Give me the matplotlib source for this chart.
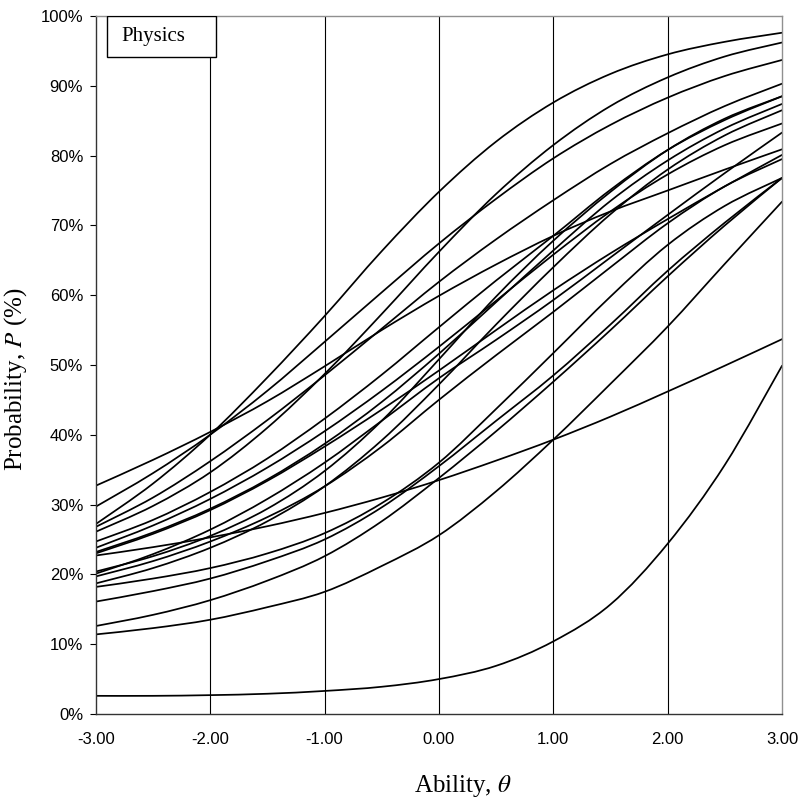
import numpy as np
import matplotlib
matplotlib.use("Agg")
import matplotlib.pyplot as plt
from matplotlib.path import Path
from matplotlib.patches import PathPatch, Rectangle

plt.rcParams["mathtext.fontset"] = "stix"

# ability grid the curves were read at
theta = [-3.0, -2.5, -2.0, -1.5, -1.0, -0.5, 0.0, 0.5, 1.0, 1.5, 2.0, 2.5, 3.0]

# probability (%), one list per item
item_a = [27.2, 33.0, 40.0, 48.2, 57.0, 66.3, 74.8, 82.0, 87.6, 91.7, 94.5, 96.3, 97.6]
item_b = [26.1, 29.8, 34.6, 41.0, 48.7, 57.3, 66.2, 74.5, 81.5, 87.1, 91.2, 94.2, 96.2]
item_c = [29.7, 34.5, 40.0, 46.3, 53.3, 60.4, 67.4, 73.8, 79.6, 84.4, 88.3, 91.4, 93.7]
item_d = [26.8, 31.0, 36.2, 42.1, 48.5, 55.2, 61.9, 68.0, 73.6, 78.8, 83.2, 87.1, 90.3]
item_g = [32.7, 36.4, 40.4, 44.8, 49.8, 55.0, 59.9, 64.4, 68.5, 72.0, 75.0, 78.0, 80.9]
item_e1 = [24.7, 27.8, 31.8, 36.6, 42.3, 48.6, 55.4, 62.1, 68.5, 75.1, 80.8, 85.1, 88.5]
item_e2 = [20.4, 22.6, 25.5, 29.4, 34.8, 42.0, 50.8, 59.8, 67.8, 74.8, 80.8, 85.3, 88.5]
item_e3 = [23.2, 26.0, 29.4, 33.6, 38.7, 44.7, 51.6, 59.0, 66.4, 73.5, 79.3, 83.9, 87.4]
item_e4 = [18.7, 20.9, 23.8, 27.6, 32.6, 39.2, 47.2, 55.8, 64.0, 71.6, 78.0, 82.9, 86.5]
item_e5 = [23.8, 27.0, 30.8, 35.3, 40.5, 46.3, 52.6, 59.2, 65.8, 72.0, 77.3, 81.5, 84.6]
item_h1 = [23.0, 25.8, 29.2, 33.4, 38.3, 43.6, 49.2, 55.0, 60.7, 66.0, 70.9, 75.6, 80.1]
item_h2 = [20.1, 22.9, 26.4, 30.8, 36.0, 42.0, 48.1, 53.6, 59.3, 65.4, 71.5, 77.5, 83.3]
item_h3 = [19.7, 21.9, 24.7, 28.2, 32.6, 38.3, 45.0, 51.4, 57.6, 64.0, 70.3, 75.6, 79.5]
item_h4 = [18.2, 19.4, 20.9, 23.0, 25.9, 30.2, 36.0, 43.7, 51.7, 59.8, 67.2, 72.8, 76.8]
item_h5 = [16.1, 17.6, 19.4, 21.9, 25.0, 29.6, 35.5, 42.0, 48.5, 55.8, 63.5, 70.4, 76.8]
item_h6 = [12.6, 14.2, 16.3, 19.1, 22.6, 27.6, 33.8, 40.5, 47.6, 55.0, 62.7, 70.0, 76.8]
item_flat = [22.7, 23.9, 25.3, 26.9, 28.8, 31.0, 33.5, 36.3, 39.3, 42.6, 46.2, 49.9, 53.7]
item_sl = [11.4, 12.3, 13.5, 15.3, 17.5, 21.2, 25.6, 31.9, 39.3, 47.3, 55.5, 64.5, 73.4]
item_low = [2.6, 2.6, 2.7, 2.9, 3.3, 3.9, 5.0, 6.9, 10.4, 15.7, 24.4, 35.7, 49.9]

items = [item_a, item_b, item_c, item_d, item_g, item_e1, item_e2, item_e3, item_e4,
         item_e5, item_h1, item_h2, item_h3, item_h4, item_h5, item_h6,
         item_flat, item_sl, item_low]

xticks = [-3, -2, -1, 0, 1, 2, 3]
yticks = list(range(0, 101, 10))


def smooth_path(xs, ys):
    # Excel-style "smoothed line": cubic Bezier through every read point
    pts = np.column_stack([xs, ys])
    ext = np.vstack([pts[0], pts, pts[-1]])
    verts, codes = [pts[0]], [Path.MOVETO]
    for i in range(len(pts) - 1):
        p0, p1, p2, p3 = ext[i], ext[i + 1], ext[i + 2], ext[i + 3]
        verts += [p1 + (p2 - p0) / 6, p2 - (p3 - p1) / 6, p2]
        codes += [Path.CURVE4] * 3
    return Path(verts, codes)


fig = plt.figure(figsize=(7.99, 7.99), dpi=100)
ax = fig.add_axes([0.1198, 0.1064, 0.8590, 0.8736])

for p in items:
    ax.add_patch(PathPatch(smooth_path(theta, p), fill=False, ec="black", lw=1.25,
                           capstyle="round", joinstyle="round"))

ax.set_xlim(-3, 3); ax.set_ylim(0, 100)
ax.set_xticks(xticks)
ax.set_xticklabels(["%.2f" % v for v in xticks], family="Liberation Sans", fontsize=12)
ax.set_yticks(yticks)
ax.set_yticklabels(["%d%%" % v for v in yticks], family="Liberation Sans", fontsize=12)
ax.tick_params(axis="x", length=0, pad=13)
ax.tick_params(axis="y", length=4, width=0.8, pad=5)
for v in xticks[1:-1]:
    ax.axvline(v, color="black", lw=0.8, zorder=0)

for s in ("left", "bottom"):
    ax.spines[s].set_color("#333333"); ax.spines[s].set_linewidth(1.0)
for s in ("top", "right"):
    ax.spines[s].set_color("#909090"); ax.spines[s].set_linewidth(1.0)

ax.set_xlabel(r"Ability, $\mathit{\theta}$", family="Liberation Serif", fontsize=18, labelpad=12)
ax.xaxis.set_label_coords(0.535, -0.085)
ax.set_ylabel(r"Probability, $\mathit{P}$ (%)", family="Liberation Serif", fontsize=18, labelpad=10)
ax.yaxis.set_label_coords(-0.097, 0.48)

# "Physics" label box in the top-left corner
ax.add_patch(Rectangle((-2.90, 94.1), 0.95, 5.9, fill=True, fc="white", ec="black", lw=1.0, zorder=5))
ax.text(-2.78, 97.0, "Physics", family="Liberation Serif", fontsize=15, va="center", ha="left", zorder=6)

fig.savefig("out.png", dpi=100)
